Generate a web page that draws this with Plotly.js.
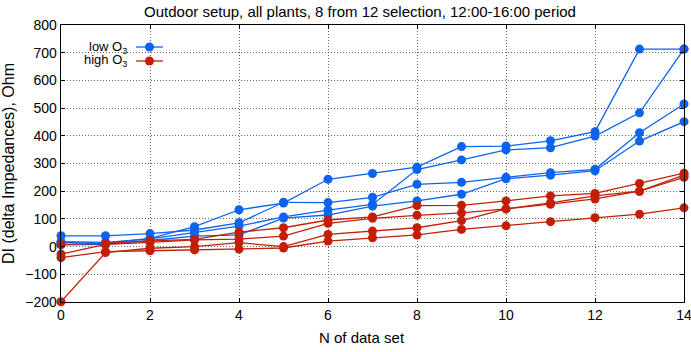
<!DOCTYPE html>
<html>
<head>
<meta charset="utf-8">
<script src="https://cdn.plot.ly/plotly-3.0.1.min.js"></script>
<style>
  html, body { margin: 0; padding: 0; background: #fff; }
  #chart { width: 691px; height: 352px; }
</style>
</head>
<body>
<div id="chart"></div>
<script>
// Data set index (x axis)
const dataSet = [0, 1, 2, 3, 4, 5, 6, 7, 8, 9, 10, 11, 12, 13, 14];

// Low O3 plants: delta impedance per data set, Ohm
const lowO3_a = [15, 12, 30, 72, 133, 157, 243, 264, 287, 361, 363, 382, 415, 713, 713];
const lowO3_b = [39, 39, 47, 60, 86, 160, 159, 178, 225, 232, 250, 267, 279, 411, 515];
const lowO3_c = [18, 15, 28, 50, 74, 107, 132, 152, 278, 313, 349, 357, 399, 483, 713];
const lowO3_d = [6, 8, 22, 38, 42, 103, 114, 146, 165, 189, 245, 258, 274, 381, 451];

// High O3 plants: delta impedance per data set, Ohm
const highO3_a = [8, 12, 21, 26, 52, 68, 96, 107, 148, 149, 165, 183, 192, 228, 265];
const highO3_b = [-27, 8, 15, 24, 27, 38, 84, 102, 113, 122, 136, 158, 183, 200, 258];
const highO3_c = [-199, -22, -6, 0, 14, 0, 44, 56, 68, 94, 136, 153, 172, 200, 250];
const highO3_d = [-40, -18, -15, -12, -9, -5, 20, 32, 42, 62, 75, 90, 104, 117, 140];

const xTicks = [0, 2, 4, 6, 8, 10, 12, 14];
const yTicks = [-200, -100, 0, 100, 200, 300, 400, 500, 600, 700, 800];

const BLUE = '#0b63ee';
const RED = '#c31f08';
const FONT = 'Liberation Sans, Arial, sans-serif';

function series(y, color) {
  return {
    x: dataSet, y: y, type: 'scatter', mode: 'lines+markers',
    line: { color: color, width: 1.3 },
    marker: { color: color, size: 9 },
    showlegend: false, hoverinfo: 'skip', cliponaxis: false
  };
}

const traces = [
  series(lowO3_a, BLUE), series(lowO3_b, BLUE), series(lowO3_c, BLUE), series(lowO3_d, BLUE),
  series(highO3_a, RED), series(highO3_b, RED), series(highO3_c, RED), series(highO3_d, RED)
];

// Plot area geometry in pixels (used to place the key and captions in paper units)
const M = { l: 61, r: 7, t: 25, b: 50 };
const W = 691, H = 352;
const pw = W - M.l - M.r, ph = H - M.t - M.b;
const px = v => (v - M.l) / pw;
const py = v => (H - M.b - v) / ph;

const keyRows = [
  { label: 'low O<sub>3</sub>', color: BLUE, y: 47 },
  { label: 'high O<sub>3</sub>', color: RED, y: 61 }
];

const shapes = [];
const annotations = [];
keyRows.forEach(k => {
  shapes.push({ type: 'line', xref: 'paper', yref: 'paper',
    x0: px(136), x1: px(163), y0: py(k.y), y1: py(k.y),
    line: { color: k.color, width: 1.3 } });
  shapes.push({ type: 'circle', xref: 'paper', yref: 'paper',
    x0: px(149.5 - 4.5), x1: px(149.5 + 4.5), y0: py(k.y + 4.5), y1: py(k.y - 4.5),
    fillcolor: k.color, line: { color: k.color, width: 0 } });
  annotations.push({ xref: 'paper', yref: 'paper', x: px(129), y: py(k.y),
    xanchor: 'right', yanchor: 'middle', showarrow: false, text: k.label,
    font: { family: FONT, size: 13, color: '#000' } });
});

// x-axis caption
annotations.push({ xref: 'paper', yref: 'paper', x: px(362), y: py(337),
  xanchor: 'center', yanchor: 'middle', showarrow: false, text: 'N of data set',
  font: { family: FONT, size: 15, color: '#000' } });

const axisCommon = {
  showline: true, linecolor: '#000', linewidth: 1.3, mirror: 'allticks',
  ticks: 'inside', ticklen: 4, tickcolor: '#000', tickwidth: 1,
  showgrid: true, gridcolor: '#666', griddash: '1px,2px', gridwidth: 1,
  zeroline: false, ticklabeloverflow: 'allow',
  tickfont: { family: FONT, size: 14, color: '#000' }
};

const layout = {
  width: W, height: H,
  margin: M,
  paper_bgcolor: '#fff', plot_bgcolor: '#fff',
  title: { text: 'Outdoor setup, all plants, 8 from 12 selection, 12:00-16:00 period',
    font: { family: FONT, size: 15, color: '#000' },
    xref: 'paper', x: px(360), xanchor: 'center', yref: 'container', y: 1 - 12 / H, yanchor: 'middle' },
  xaxis: Object.assign({}, axisCommon, {
    range: [0, 14], tickvals: xTicks, ticktext: xTicks.map(String)
  }),
  yaxis: Object.assign({}, axisCommon, {
    range: [-200, 800], tickvals: yTicks, ticktext: yTicks.map(v => v < 0 ? '\u2212' + Math.abs(v) : String(v)),
    title: { text: 'DI (delta Impedances), Ohm', font: { family: FONT, size: 16, color: '#000' }, standoff: 6 }
  }),
  shapes: shapes,
  annotations: annotations,
  showlegend: false
};

Plotly.newPlot('chart', traces, layout, { staticPlot: true, displayModeBar: false });
</script>
</body>
</html>
